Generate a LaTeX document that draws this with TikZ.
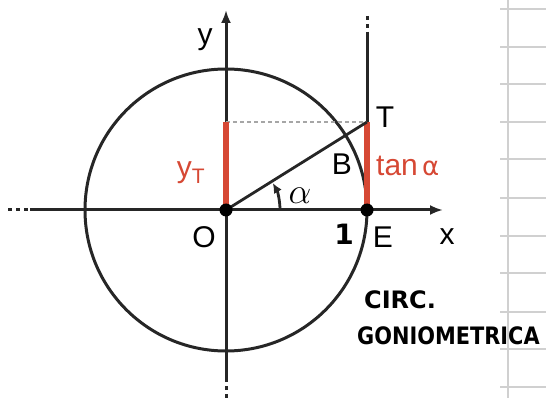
\documentclass[tikz,border=0pt]{standalone}
\usepackage{fontspec}
\setmainfont{Liberation Sans}
\newfontfamily\handfont{DejaVu Sans}
\usetikzlibrary{arrows.meta,calc}
\definecolor{redseg}{RGB}{214,72,52}
\definecolor{gridgray}{RGB}{208,208,208}
\begin{document}
\begin{tikzpicture}[x=1pt,y=-1pt,
  ax/.style={line width=3pt,black!85},
  dotline/.style={line width=3pt,black!85,dash pattern=on 4pt off 4pt},
  redline/.style={line width=5.5pt,redseg},
  lbl/.style={font=\fontsize{30}{30}\selectfont,inner sep=0pt},
  redlbl/.style={lbl,text=redseg},
  hand/.style={font=\handfont\bfseries\fontsize{24}{24}\selectfont,inner sep=0pt},
  gridl/.style={line width=2.6pt,gridgray}]
\useasboundingbox (0,0) rectangle (546,398);
% grid on the right
\draw[gridl] (508,0) -- (508,398);
\foreach \yy in {9,47,84,122,159,198,236,273,312,349,387}
  \draw[gridl] (500,\yy) -- (546,\yy);
% points
\coordinate (O) at (226,210);
\coordinate (E) at (367,210);
\coordinate (T) at (367,122);
\coordinate (YT) at (226,122);
\coordinate (xl) at (30,210);
\coordinate (xld) at (8,210);
\coordinate (xr) at (443,210);
\coordinate (yb) at (226,378);
\coordinate (ybd) at (226,398);
\coordinate (yt) at (226,10);
\coordinate (tt) at (367,32);
\coordinate (ttd) at (367,16);
% circle
\draw[line width=3pt,black!85] (O) circle[radius=141];
% axes
\draw[dotline] (xld) -- (xl);
\draw[ax,-{Latex[length=13pt,width=10pt]}] (xl) -- (xr);
\draw[dotline] (ybd) -- (yb);
\draw[ax,-{Latex[length=13pt,width=10pt]}] (yb) -- (yt);
% tangent line
\draw[dotline] (ttd) -- (tt);
\draw[ax] (tt) -- (T);
% dashed projection
\draw[line width=1.8pt,black!35,dash pattern=on 4pt off 3pt] (YT) -- (T);
% red segments
\draw[redline] (O) -- (YT);
\draw[redline] (E) -- (T);
% OT line
\draw[line width=2.8pt,black!85] (O) -- (T);
% angle arc
\draw[line width=2.8pt,black!85,-{Latex[length=10pt,width=9pt]}] ($(O)+(54,0)$) arc[start angle=0,end angle=-30,radius=54];
% dots
\fill[black] (O) circle[radius=6.5];
\fill[black] (E) circle[radius=6.5];
% labels
\node[lbl] (ly) at (205,40) {y};
\node[lbl] (lO) at (204,237) {O};
\node[lbl] (lE) at (383,237) {E};
\node[lbl] (lx) at (447,237) {x};
\node[lbl] (lT) at (385,117) {T};
\node[lbl] (lB) at (342,164) {B};
\node[redlbl] (lyT) at (191,173) {y\textsubscript{T}};
\node[redlbl,anchor=west] (ltan) at (376,166) {tan{\handfont\fontsize{26}{26}\selectfont\,α}};
\node[inner sep=0pt,scale=1.45] (la) at (300,196) {\fontsize{24}{24}\selectfont$\alpha$};
\node[hand,font=\handfont\bfseries\fontsize{28}{28}\selectfont] (l1) at (344,234) {1};
\node[hand,anchor=west] (lc) at (364,300) {CIRC.};
\node[hand,anchor=west,xscale=0.87] (lg) at (357,336) {GONIOMETRICA};
\end{tikzpicture}
\end{document}
